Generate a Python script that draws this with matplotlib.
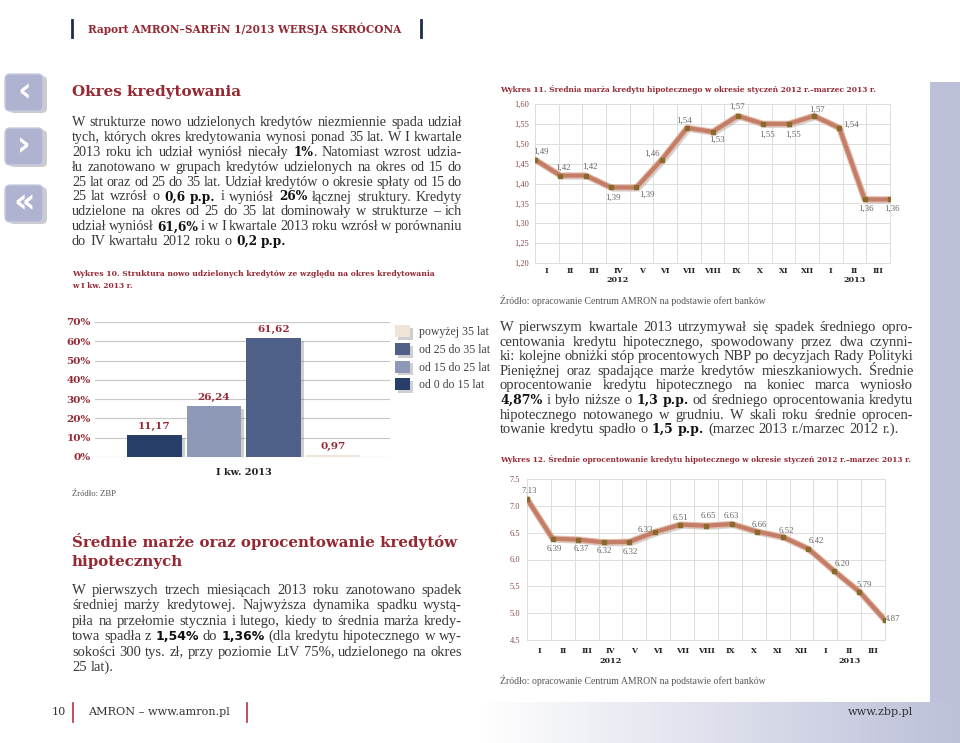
import matplotlib
matplotlib.use('Agg')
import matplotlib.pyplot as plt
import matplotlib.patheffects as pe
import numpy as np
from matplotlib.patches import FancyBboxPatch, Rectangle
from matplotlib.colors import LinearSegmentedColormap
from matplotlib.ticker import FuncFormatter

W, H = 960, 743
RED = '#952833'
NAVY = '#1f2b4d'
TEXT = '#383838'
LAV = '#bcc0d9'
SERIF = 'Liberation Serif'
SLAB = 'DejaVu Serif'

# ---- data ----
term_groups = ['od 0 do 15 lat', 'od 15 do 25 lat', 'od 25 do 35 lat', 'powyżej 35 lat']
term_share = [11.17, 26.24, 61.62, 0.97]
term_colors = ['#263e68', '#8e99b8', '#4f6088', '#eee5d8']

months = ['I', 'II', 'III', 'IV', 'V', 'VI', 'VII', 'VIII', 'IX', 'X', 'XI', 'XII', 'I', 'II', 'III']
year_labels = {'2012': 3, '2013': 13}

margin = [1.46, 1.42, 1.42, 1.39, 1.39, 1.46, 1.54, 1.53, 1.57, 1.55, 1.55, 1.57, 1.54, 1.36, 1.36]
margin_labels = ['1,49', '1,42', '1,42', '1,39', '1,39', '1,46', '1,54', '1,53',
                 '1,57', '1,55', '1,55', '1,57', '1,54', '1,36', '1,36']

rate = [7.13, 6.39, 6.37, 6.32, 6.33, 6.51, 6.65, 6.63, 6.66, 6.52, 6.42, 6.20, 5.79, 5.40, 4.87]
rate_labels = ['7.13', '6.39', '6.37', '6.32', '6.32', '6.33', '6.51', '6.65',
               '6.63', '6.66', '6.52', '6.42', '6.20', '5.79', '4.87']

# label offsets in pixels (dx, dy up)
margin_offsets = [(6, 8), (3, 8), (4, 9), (2, -10), (10, -7), (-10, 6), (-3, 7), (4, -8),
                  (-1, 9), (4, -11), (4, -11), (3, 6), (12, 3), (1, -9), (2, -9)]
rate_offsets = [(2, 8), (2, -10), (3, -9), (1, -9), (1, -10), (-10, 2), (0, 7), (2, 10),
                (0, 8), (2, 7), (4, 6), (8, 8), (9, 7), (5, 7), (8, 1)]

p1 = [
    "W strukturze nowo udzielonych kredytów niezmiennie spada udział",
    "tych, których okres kredytowania wynosi ponad 35 lat. W I kwartale",
    "2013 roku ich udział wyniósł niecały *1%*. Natomiast wzrost udzia-",
    "łu zanotowano w grupach kredytów udzielonych na okres od 15 do",
    "25 lat oraz od 25 do 35 lat. Udział kredytów o okresie spłaty od 15 do",
    "25 lat wzrósł o *0,6 p.p.* i wyniósł *26%* łącznej struktury. Kredyty",
    "udzielone na okres od 25 do 35 lat dominowały w strukturze – ich",
    "udział wyniósł *61,6%* i w I kwartale 2013 roku wzrósł w porównaniu",
    "do IV kwartału 2012 roku o *0,2 p.p.*",
]
p2 = [
    "W pierwszych trzech miesiącach 2013 roku zanotowano spadek",
    "średniej marży kredytowej. Najwyższa dynamika spadku wystą-",
    "piła na przełomie stycznia i lutego, kiedy to średnia marża kredy-",
    "towa spadła z *1,54%* do *1,36%* (dla kredytu hipotecznego w wy-",
    "sokości 300 tys. zł, przy poziomie LtV 75%, udzielonego na okres",
    "25 lat).",
]
p3 = [
    "W pierwszym kwartale 2013 utrzymywał się spadek średniego opro-",
    "centowania kredytu hipotecznego, spowodowany przez dwa czynni-",
    "ki: kolejne obniżki stóp procentowych NBP po decyzjach Rady Polityki",
    "Pieniężnej oraz spadające marże kredytów mieszkaniowych. Średnie",
    "oprocentowanie kredytu hipotecznego na koniec marca wyniosło",
    "*4,87%* i było niższe o *1,3 p.p.* od średniego oprocentowania kredytu",
    "hipotecznego notowanego w grudniu. W skali roku średnie oprocen-",
    "towanie kredytu spadło o *1,5 p.p.* (marzec 2013 r./marzec 2012 r.).",
]

fig = plt.figure(figsize=(W / 100, H / 100), dpi=100)
bg = fig.add_axes([0, 0, 1, 1])
bg.set_xlim(0, W)
bg.set_ylim(H, 0)
bg.axis('off')
rend = fig.canvas.get_renderer()


def px_axes(x0, y0, x1, y1):
    return fig.add_axes([x0 / W, 1 - y1 / H, (x1 - x0) / W, (y1 - y0) / H])


def width_of(t):
    return t.get_window_extent(rend).width


def fit_text(x, y, s, width, ha='left', **kw):
    t = bg.text(x, y, s, fontsize=10, ha=ha, va='center', **kw)
    t.set_fontsize(10 * width / width_of(t))
    return t


def parse(line):
    words, cur, buf, bold = [], [], '', False
    for ch in line:
        if ch == '*':
            if buf:
                cur.append((buf, bold))
                buf = ''
            bold = not bold
        elif ch == ' ':
            if buf:
                cur.append((buf, bold))
                buf = ''
            if cur:
                words.append(cur)
                cur = []
        else:
            buf += ch
    if buf:
        cur.append((buf, bold))
    if cur:
        words.append(cur)
    return words


def paragraph(lines, x0, x1, y0, step, size, bold_family=SLAB, bold_scale=0.86):
    rows = []
    for line in lines:
        row = []
        for word in parse(line):
            row.append([bg.text(0, 0, s, fontsize=size * (bold_scale if b else 1), va='baseline',
                                color='#111111' if b else TEXT,
                                family=bold_family if b else SERIF,
                                weight='bold' if b else 'normal') for s, b in word])
        rows.append(row)
    space = size * 0.22 * 100 / 72
    natural = max(sum(width_of(t) for w in row for t in w) + space * (len(row) - 1)
                  for row in rows[:-1])
    scale = min(1.0, (x1 - x0) / natural)
    if scale < 1:
        for row in rows:
            for w in row:
                for t in w:
                    t.set_fontsize(t.get_fontsize() * scale)
        space *= scale
    for k, row in enumerate(rows):
        widths = [sum(width_of(t) for t in w) for w in row]
        if k == len(rows) - 1:
            gap = space * 1.3
        else:
            gap = (x1 - x0 - sum(widths)) / (len(row) - 1)
        x = x0
        y = y0 + k * step + 4
        for w in row:
            for t in w:
                t.set_position((x, y))
                x += width_of(t)
            x += gap


# ---- page decoration ----
bg.add_patch(Rectangle((930, 82), 30, 620, fc=LAV, ec='none'))
grad = np.linspace(0, 1, 256).reshape(1, -1)
cmap = LinearSegmentedColormap.from_list('pg', ['#ffffff', LAV])
bg.imshow(grad, extent=[480, 960, 743, 702], aspect='auto', cmap=cmap, zorder=0)
bg.set_xlim(0, W)
bg.set_ylim(H, 0)

bg.plot([72, 72], [20, 37], color=NAVY, lw=2)
bg.plot([421, 421], [20, 37], color=NAVY, lw=2)
fit_text(88, 29, 'Raport AMRON–SARFiN 1/2013 WERSJA SKRÓCONA', 314,
         color=RED, family=SLAB, weight='bold')

for cy, glyph in zip([93, 147, 204], ['‹', '›', '«']):
    bg.add_patch(FancyBboxPatch((9, cy - 17), 38, 37, boxstyle='round,pad=0,rounding_size=5',
                                fc='#8d8d8d', ec='none', alpha=0.45))
    bg.add_patch(FancyBboxPatch((5, cy - 19), 38, 37, boxstyle='round,pad=0,rounding_size=5',
                                fc='#afb3cf', ec='#c8cbe0', lw=1))
    bg.text(24, cy - 1, glyph, ha='center', va='center', fontsize=24, color='white',
            weight='bold', family='DejaVu Sans')

# ---- left column ----
fit_text(72, 92, 'Okres kredytowania', 170, color=RED, family=SLAB, weight='bold')
paragraph(p1, 72, 462, 122, 14.9, 10.5)

fit_text(72, 274, 'Wykres 10. Struktura nowo udzielonych kredytów ze względu na okres kredytowania',
         361, color=RED, family=SLAB, weight='bold')
fit_text(72, 286, 'w I kw. 2013 r.', 61, color=RED, family=SLAB, weight='bold')

ax1 = px_axes(95, 322, 390, 457)
xb = np.arange(len(term_share))
bars = ax1.bar(xb, term_share, width=0.92, color=term_colors, zorder=3)
for b in bars:
    b.set_path_effects([pe.SimplePatchShadow(offset=(2, -2), shadow_rgbFace='#777777', alpha=0.35),
                        pe.Normal()])
ax1.set_xlim(-1, 3.96)
ax1.set_ylim(0, 70)
ax1.set_yticks(range(0, 71, 10))
ax1.yaxis.set_major_formatter(FuncFormatter(lambda v, p: f'{v:.0f}%'))
ax1.grid(axis='y', color='#c8c8c8', lw=0.8, zorder=0)
ax1.set_axisbelow(True)
for s in ax1.spines.values():
    s.set_visible(False)
ax1.tick_params(length=0)
ax1.tick_params(axis='y', labelsize=7.5, labelcolor=RED, pad=3)
for lab in ax1.get_yticklabels():
    lab.set_fontweight('bold')
    lab.set_family(SLAB)
ax1.set_xticks([1.5])
ax1.set_xticklabels(['I kw. 2013'], fontsize=7, fontweight='bold', family=SLAB, color='#222222')
ax1.tick_params(axis='x', pad=8)
ax1.bar_label(bars, labels=[f'{v:.2f}'.replace('.', ',') for v in term_share], padding=3,
              fontsize=7.5, color=RED, fontweight='bold', family=SLAB)
ax1.legend(list(bars)[::-1], term_groups[::-1], loc='upper left',
           bbox_to_anchor=(395 / W, 1 - 325 / H), bbox_transform=fig.transFigure,
           frameon=False, borderpad=0, borderaxespad=0, handlelength=1.25, handleheight=1.2,
           labelspacing=0.4, handletextpad=0.8,
           prop={'family': SERIF, 'size': 8.5}, labelcolor='#444444')

fit_text(72, 494, 'Źródło: ZBP', 44, color='#555555', family=SERIF)

fit_text(72, 542, 'Średnie marże oraz oprocentowanie kredytów', 386, color=RED, family=SLAB, weight='bold')
fit_text(72, 562, 'hipotecznych', 111, color=RED, family=SLAB, weight='bold')
paragraph(p2, 72, 462, 590, 15.4, 10.5, bold_family='DejaVu Sans')


# ---- right column ----
def line_chart(rect, values, labels, offsets, ylim, step, fmt, cat_pad, year_pad, ypad):
    ax = px_axes(*rect)
    n = len(values)
    xs = np.linspace(0, n, n)
    ax.set_xlim(0, n)
    ax.set_ylim(*ylim)
    ax.set_xticks(np.arange(n + 1))
    ax.set_xticklabels([])
    ax.set_xticks(np.arange(n) + 0.5, minor=True)
    ax.set_xticklabels(months, minor=True, fontsize=5.5, fontweight='bold', family=SLAB, color='#222222')
    ax.set_yticks(np.arange(ylim[0], ylim[1] + step / 2, step))
    ax.yaxis.set_major_formatter(FuncFormatter(fmt))
    ax.grid(True, which='major', color='#dddddd', lw=0.7)
    ax.tick_params(which='both', length=0)
    ax.tick_params(axis='x', which='minor', pad=cat_pad)
    ax.tick_params(axis='y', labelsize=6, labelcolor='#8e4a4a', pad=ypad)
    for lab in ax.get_yticklabels():
        lab.set_family(SERIF)
    for s in ax.spines.values():
        s.set_color('#dddddd')
        s.set_linewidth(0.7)
    ax.plot(xs, values, color='#c47e67', lw=3, solid_joinstyle='round', solid_capstyle='round',
            path_effects=[pe.SimpleLineShadow(offset=(1.5, -1.5), shadow_color='#888888', alpha=0.35),
                          pe.Stroke(linewidth=4.6, foreground='#e3bcab'), pe.Normal()], zorder=3)
    ax.plot(xs, values, 's', ms=3.2, color='#8a6a2a', zorder=4)
    for xv, yv, lab, (dx, dy) in zip(xs, values, labels, offsets):
        ax.annotate(lab, (xv, yv), xytext=(dx, dy), textcoords='offset pixels',
                    ha='center', va='center', fontsize=6.3, color='#666666', family=SERIF,
                    annotation_clip=False, zorder=5)
    for yr, idx in year_labels.items():
        ax.annotate(yr, xy=(idx + 0.5, 0), xycoords=('data', 'axes fraction'),
                    xytext=(0, -year_pad), textcoords='offset pixels', ha='center', va='center',
                    fontsize=5.8, fontweight='bold', family=SLAB, color='#222222')
    return ax


fit_text(500, 89, 'Wykres 11. Średnia marża kredytu hipotecznego w okresie styczeń 2012 r.–marzec 2013 r.',
         377, color=RED, family=SLAB, weight='bold')
line_chart((535, 104, 890, 263), margin, margin_labels, margin_offsets, (1.20, 1.60), 0.05,
           lambda v, p: f'{v:.2f}'.replace('.', ','), 3, 17, 4)
fit_text(500, 301, 'Źródło: opracowanie Centrum AMRON na podstawie ofert banków', 263,
         color='#555555', family=SERIF)

paragraph(p3, 500, 913, 327, 14.6, 10.5)

fit_text(500, 459, 'Wykres 12. Średnie oprocentowanie kredytu hipotecznego w okresie styczeń 2012 r.–marzec 2013 r.',
         410, color=RED, family=SLAB, weight='bold')
line_chart((527, 479, 885, 640), rate, rate_labels, rate_offsets, (4.5, 7.5), 0.5,
           lambda v, p: f'{v:.1f}', 5, 21, 5)
fit_text(500, 681, 'Źródło: opracowanie Centrum AMRON na podstawie ofert banków', 263,
         color='#555555', family=SERIF)

# ---- footer ----
ft = fit_text(88, 712, 'AMRON – www.amron.pl', 142, color='#333333', family=SLAB)
bg.text(66, 712, '10', ha='right', va='center', fontsize=ft.get_fontsize(), color='#333333', family=SLAB)
bg.text(913, 712, 'www.zbp.pl', ha='right', va='center', fontsize=ft.get_fontsize(), color='#333333', family=SLAB)
bg.plot([73, 73], [703, 722], color='#c0303c', lw=1.2)
bg.plot([247, 247], [703, 722], color='#c0303c', lw=1.2)

fig.savefig('out.png', dpi=100)
